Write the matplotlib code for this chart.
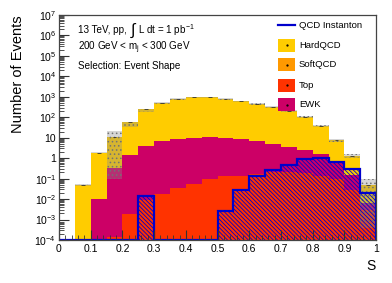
import numpy as np
import matplotlib
matplotlib.use('Agg')
import matplotlib.pyplot as plt
from matplotlib.patches import Rectangle
from matplotlib.ticker import FixedLocator, FixedFormatter, LogLocator, MultipleLocator, NullFormatter

plt.rcParams['font.family'] = ['Liberation Sans', 'DejaVu Sans']
plt.rcParams['mathtext.fontset'] = 'custom'
plt.rcParams['mathtext.rm'] = 'Liberation Sans'
plt.rcParams['mathtext.it'] = 'Liberation Sans:italic'
plt.rcParams['hatch.linewidth'] = 0.6

# 20 bins in S from 0 to 1
edges = np.linspace(0, 1, 21)

# stacked backgrounds (events per bin)
top = [0, 0, 0, 1.45e-4, 0.0019, 0.009, 0.017, 0.034, 0.052, 0.093,
       0.135, 0.14, 0.16, 0.21, 0.21, 0.18, 0.13, 0.1, 0.028, 0.003]
ewk = [0, 0, 0.01, 0.32, 1.45, 4.1, 6.9, 8.7, 9.7, 10.2,
       9.7, 8.6, 6.6, 4.9, 3.5, 2.4, 1.5, 0.6, 0.12, 0.0033]
softqcd = [0] * 20
hardqcd = [0, 0.05, 1.84, 10.7, 55.5, 241, 510, 801, 940, 940,
           765, 591, 458, 315, 206, 97, 37, 7.1, 1.15, 0.044]

# signal, drawn on top (not stacked)
instanton = [0, 0, 0, 0, 0, 0.014, 0, 0, 0, 0,
             0.0026, 0.027, 0.135, 0.26, 0.48, 0.95, 1.0, 0.68, 0.29, 0.02]

# stat. uncertainty band on the stack total
band_lo = [0, 0.045, 1.7, 0.095, 35, 173, 430, 700, 850, 850,
           700, 540, 420, 290, 190, 88, 34, 6.5, 1.0, 3.7e-4]
band_hi = [0, 0.055, 2.0, 21, 62, 260, 560, 880, 1030, 1030,
           840, 650, 505, 350, 230, 110, 43, 9.0, 1.6, 0.1]

col_hard = '#ffcc00'
col_soft = '#ff9900'
col_top = '#ff3300'
col_ewk = '#cc0066'
col_inst = '#0000cc'

ymin, ymax = 1e-4, 1e7
floor = 1e-6

fig = plt.figure(figsize=(3.92, 2.83), dpi=100)
ax = fig.add_axes([0.1505, 0.152, 0.809, 0.795])

# cumulative stack: top at the bottom, then EWK, SoftQCD, HardQCD
c_top = np.array(top, float)
c_ewk = c_top + np.array(ewk, float)
c_soft = c_ewk + np.array(softqcd, float)
c_hard = c_soft + np.array(hardqcd, float)

for vals, col in [(c_hard, col_hard), (c_soft, col_soft), (c_ewk, col_ewk), (c_top, col_top)]:
    v = np.where(vals > 0, vals, floor)
    ax.stairs(v, edges, baseline=floor, fill=True, color=col, lw=0)

# error band
centers = 0.5 * (edges[:-1] + edges[1:])
lo = np.array(band_lo, float)
hi = np.array(band_hi, float)
m = hi > 0
ax.bar(centers[m], hi[m] - lo[m], bottom=lo[m], width=0.05,
       color=(0.55, 0.55, 0.55, 0.35), edgecolor=(0.45, 0.45, 0.45),
       hatch='....', lw=0)
# small marks at the stack total
ax.hlines(c_hard[m], centers[m] - 0.006, centers[m] + 0.006, color='#333333', lw=0.6)

# instanton: hatched area + outline
inst = np.array(instanton, float)
mi = inst > 0
ax.bar(centers[mi], inst[mi] - floor, bottom=floor, width=0.05,
       facecolor='none', edgecolor=col_inst, hatch='\\' * 8, lw=0)
ax.stairs(np.clip(inst, ymin, None), edges, baseline=ymin, color=col_inst, lw=1.6)

ax.set_yscale('log')
ax.set_xlim(0, 1)
ax.set_ylim(ymin, ymax)

# ROOT-like axes
ypos = [10.0 ** k for k in range(-4, 8)]
ylab = []
for k in range(-4, 8):
    if k == 0:
        ylab.append('1')
    elif k == 1:
        ylab.append('10')
    else:
        ylab.append('$10^{%d}$' % k)
ax.yaxis.set_major_locator(FixedLocator(ypos))
ax.yaxis.set_major_formatter(FixedFormatter(ylab))
ax.yaxis.set_minor_locator(LogLocator(base=10, subs=np.arange(2, 10), numticks=30))
ax.yaxis.set_minor_formatter(NullFormatter())

xpos = np.round(np.arange(0, 1.01, 0.1), 1)
xlab = ['0'] + ['%.1f' % x for x in xpos[1:-1]] + ['1']
ax.xaxis.set_major_locator(FixedLocator(xpos))
ax.xaxis.set_major_formatter(FixedFormatter(xlab))
ax.xaxis.set_minor_locator(MultipleLocator(0.02))

ax.tick_params(axis='both', which='major', direction='in', length=7, width=0.8,
               labelsize=7.5, color='#333333', top=False, right=False)
ax.tick_params(axis='both', which='minor', direction='in', length=3.5, width=0.6,
               color='#333333', top=False, right=False)
ax.tick_params(axis='x', pad=3)
ax.tick_params(axis='y', pad=2)
for s in ax.spines.values():
    s.set_color('#444444')
    s.set_linewidth(0.9)

ax.set_ylabel('Number of Events', fontsize=10.5)
ax.yaxis.set_label_coords(-0.107, 0.735)
fig.text(376 / 392, 1 - 266 / 283, 'S', fontsize=10, ha='right', va='center')

# annotations
fs_note = 7.1
fig.text(78 / 392, 1 - 30 / 283, '13 TeV, pp,', fontsize=fs_note, va='center')
fig.text(130 / 392, 1 - 31 / 283, r'$\int$', fontsize=11.5, va='center')
fig.text(137.5 / 392, 1 - 30 / 283, r'L dt = 1 pb$^{-1}$', fontsize=fs_note, va='center')
fig.text(78 / 392, 1 - 48 / 283, r'200 GeV < m$_{\rm j}$ < 300 GeV', fontsize=fs_note, va='center')
fig.text(78 / 392, 1 - 66 / 283, 'Selection: Event Shape', fontsize=fs_note, va='center')

# legend drawn by hand
leg = [('QCD Instanton', None), ('HardQCD', col_hard), ('SoftQCD', col_soft),
       ('Top', col_top), ('EWK', col_ewk)]
rows_y = [25, 45, 64.5, 85, 104.5]
for (name, col), yy in zip(leg, rows_y):
    yf = 1 - yy / 283
    if col is None:
        fig.add_artist(plt.Line2D([278 / 392, 295 / 392], [yf, yf],
                                  color=col_inst, lw=1.6, transform=fig.transFigure))
    else:
        fig.add_artist(Rectangle((278 / 392, yf - 6.5 / 283), 17 / 392, 13 / 283,
                                 facecolor=col, edgecolor='none', transform=fig.transFigure))
        fig.add_artist(plt.Line2D([286.5 / 392], [yf], marker='.', ms=1.2, color='k',
                                  transform=fig.transFigure))
    fig.text(299 / 392, yf, name, fontsize=6.8, va='center')

fig.savefig('out.png', dpi=100)
